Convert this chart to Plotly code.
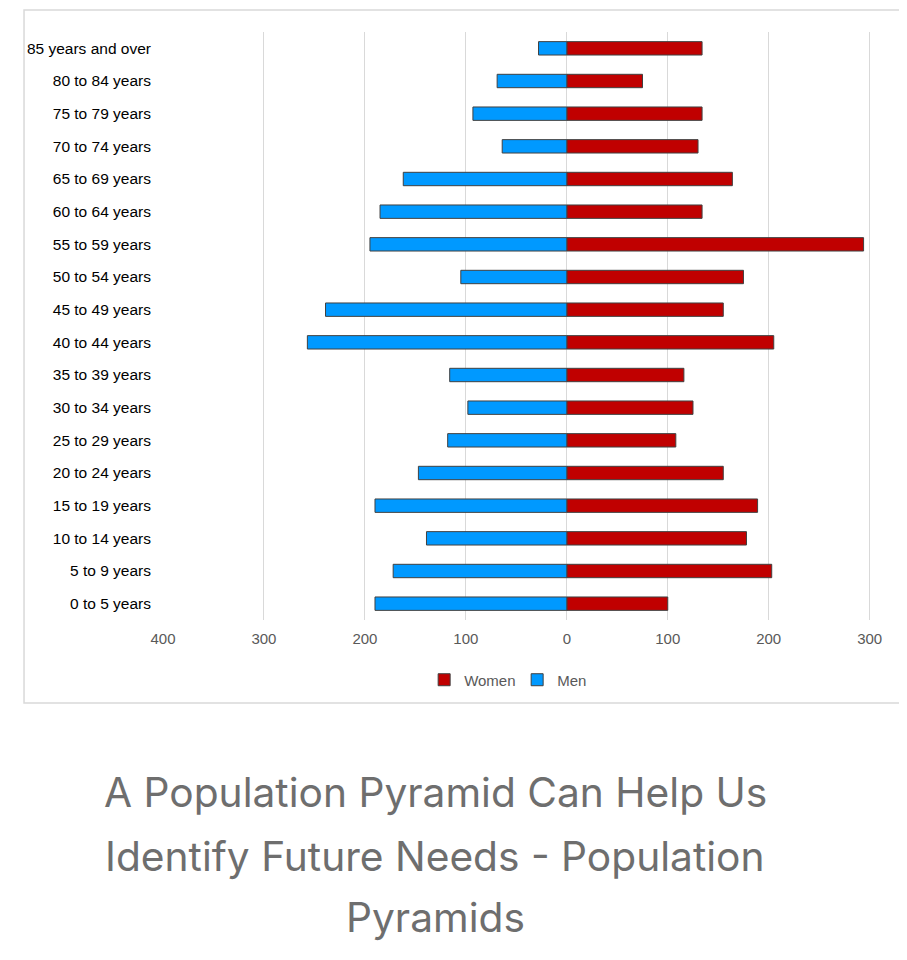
import plotly.graph_objects as go

# age groups, bottom to top
ages = ["0 to 5 years", "5 to 9 years", "10 to 14 years", "15 to 19 years",
        "20 to 24 years", "25 to 29 years", "30 to 34 years", "35 to 39 years",
        "40 to 44 years", "45 to 49 years", "50 to 54 years", "55 to 59 years",
        "60 to 64 years", "65 to 69 years", "70 to 74 years", "75 to 79 years",
        "80 to 84 years", "85 years and over"]

men = [190, 172, 139, 190, 147, 118, 98, 116, 257, 239, 105, 195, 185, 162, 64, 93, 69, 28]
women = [100, 203, 178, 189, 155, 108, 125, 116, 205, 155, 175, 294, 134, 164, 130, 134, 75, 134]

tick_vals = [-400, -300, -200, -100, 0, 100, 200, 300]
tick_text = ["400", "300", "200", "100", "0", "100", "200", "300"]

caption = ["A Population Pyramid Can Help Us",
           "Identify Future Needs - Population",
           "Pyramids"]

fig = go.Figure()

fig.add_trace(go.Bar(y=ages, x=women, name="Women", orientation="h",
                     marker=dict(color="#c00000", line=dict(color="#404040", width=1)),
                     width=0.41))
fig.add_trace(go.Bar(y=ages, x=[-v for v in men], name="Men", orientation="h",
                     marker=dict(color="#0099ff", line=dict(color="#404040", width=1)),
                     width=0.41))

# page body has an 8px margin, so the figure is 8px smaller
fig.update_layout(
    width=899, height=952,
    margin=dict(l=155, r=0, t=24, b=340),
    barmode="overlay",
    plot_bgcolor="white", paper_bgcolor="white",
    font=dict(family="Liberation Sans, Arial", size=15, color="#595959"),
    legend=dict(orientation="h", x=0.476, xanchor="center", y=-0.102, yanchor="middle",
                font=dict(size=15, color="#595959"), itemwidth=30,
                entrywidth=48, entrywidthmode="pixels", traceorder="normal"),
    showlegend=True,
)

fig.update_xaxes(range=[-400, 337], tickvals=tick_vals, ticktext=tick_text,
                 showgrid=True, gridcolor="#d9d9d9", gridwidth=1, zeroline=False,
                 showline=False, ticks="", ticklabelstandoff=8,
                 tickfont=dict(size=15, color="#595959"))
fig.update_yaxes(categoryorder="array", categoryarray=ages, showgrid=False,
                 showline=False, ticks="", ticklabelstandoff=11,
                 tickfont=dict(size=15.5, color="#000000"))

# chart frame (cut off at right edge like the picture)
fig.add_shape(type="rect", xref="paper", yref="paper",
              x0=-0.1868, x1=1.2, y0=-0.1412, y1=1.0374,
              line=dict(color="#d9d9d9", width=1.5), layer="below")

for line, y in zip(caption, [-0.2942, -0.4014, -0.5068]):
    fig.add_annotation(xref="paper", yref="paper", x=0.3656, y=y,
                       xanchor="center", yanchor="middle", showarrow=False,
                       text=line, font=dict(family="Inter, Roboto", size=40.7, color="#6e6e6e"))

fig.write_html("out.html")
